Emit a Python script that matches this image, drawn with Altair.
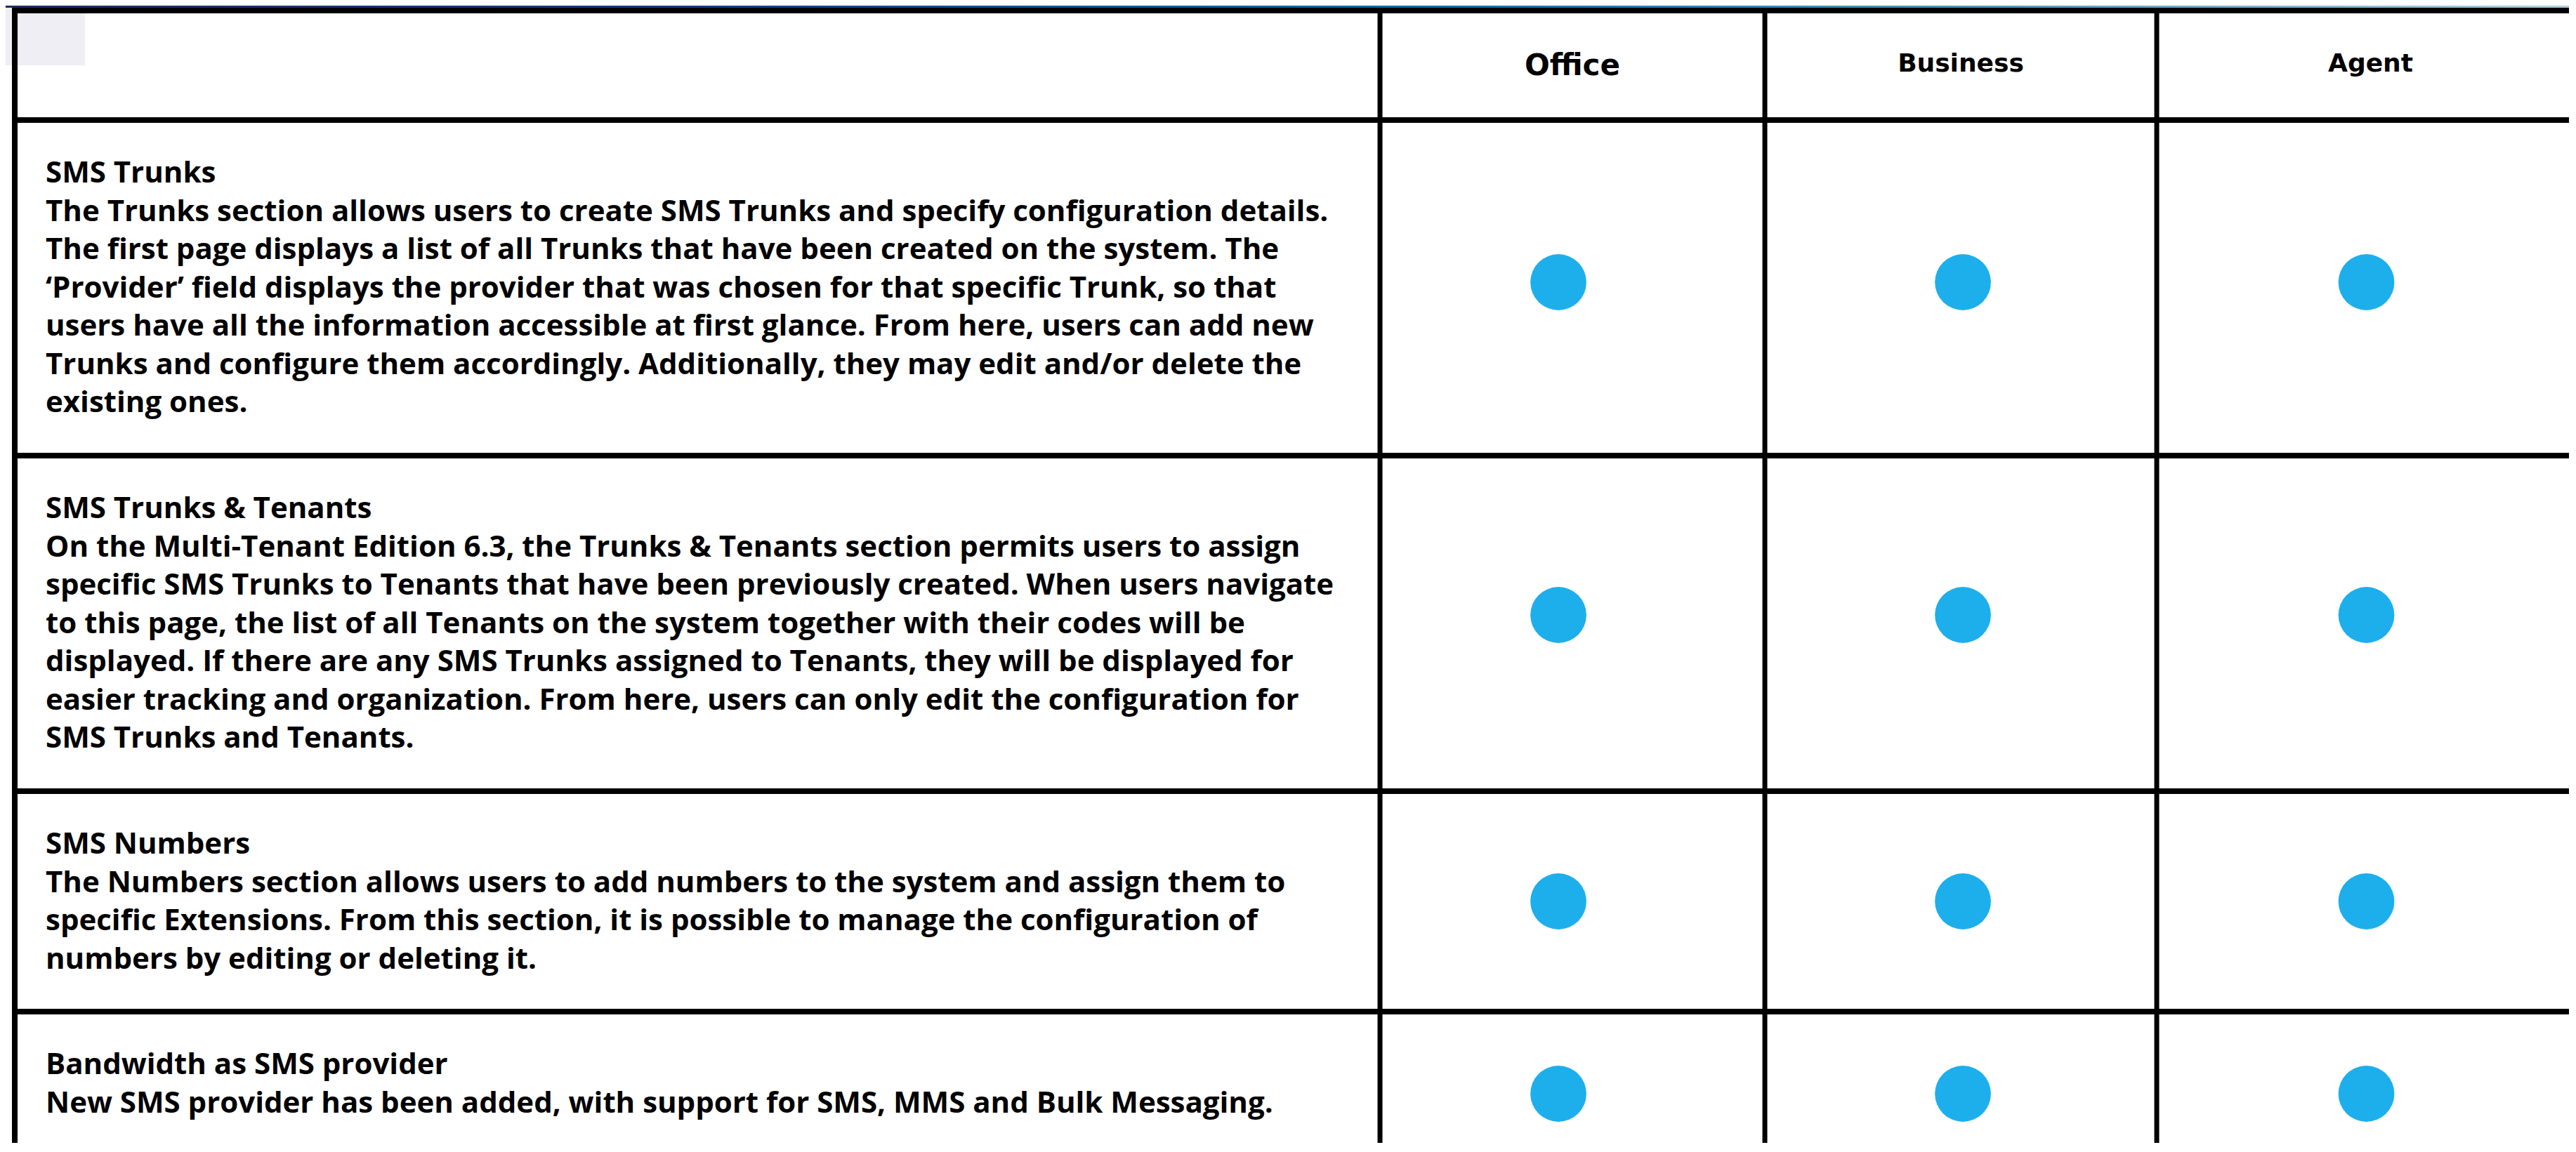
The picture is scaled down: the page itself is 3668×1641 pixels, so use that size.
import altair as alt
import pandas as pd

# ---------------- content ----------------
editions = ["Office", "Business", "Agent"]
features = [
    "SMS Trunks",
    "SMS Trunks & Tenants",
    "SMS Numbers",
    "Bandwidth as SMS provider",
]
descriptions = [
    [
        "The Trunks section allows users to create SMS Trunks and specify configuration details.",
        "The first page displays a list of all Trunks that have been created on the system. The",
        "\u2018Provider\u2019 field displays the provider that was chosen for that specific Trunk, so that",
        "users have all the information accessible at first glance. From here, users can add new",
        "Trunks and configure them accordingly. Additionally, they may edit and/or delete the",
        "existing ones.",
    ],
    [
        "On the Multi-Tenant Edition 6.3, the Trunks & Tenants section permits users to assign",
        "specific SMS Trunks to Tenants that have been previously created. When users navigate",
        "to this page, the list of all Tenants on the system together with their codes will be",
        "displayed. If there are any SMS Trunks assigned to Tenants, they will be displayed for",
        "easier tracking and organization. From here, users can only edit the configuration for",
        "SMS Trunks and Tenants.",
    ],
    [
        "The Numbers section allows users to add numbers to the system and assign them to",
        "specific Extensions. From this section, it is possible to manage the configuration of",
        "numbers by editing or deleting it.",
    ],
    [
        "New SMS provider has been added, with support for SMS, MMS and Bulk Messaging.",
    ],
]
# availability of each feature per edition (1 = included)
availability = [
    [1, 1, 1],
    [1, 1, 1],
    [1, 1, 1],
    [1, 1, 1],
]

# ---------------- layout (page pixels) ----------------
W, H = 3650, 1620
M = 8
col_edges = [21, 1965, 2513, 3071, 3680]
row_edges = [15, 171, 649, 1127, 1441, 1675]
header_sizes = [42, 36, 36]
header_dy = [2, -1, -1]
dot_dx = [-20, 3, -6]          # small per-column nudges of the dots
dot_dy = [-8, -12, 0, 0]       # small per-row nudges of the dots
text_x = 65
title_offset = 76
line_gap = 54.5

xs = alt.Scale(domain=[M, M + W], nice=False, zero=False)
ys = alt.Scale(domain=[M, M + H], nice=False, zero=False, reverse=True)


def X(f):
    return alt.X(f"{f}:Q", scale=xs, axis=None)


def Y(f):
    return alt.Y(f"{f}:Q", scale=ys, axis=None)


# decorative top band and corner tab
band = pd.DataFrame({"x0": [M], "x1": [M + W], "y0": [M], "y1": [11]})
band_layer = alt.Chart(band).mark_rect(
    color={
        "gradient": "linear",
        "x1": 0, "x2": 1, "y1": 0, "y2": 0,
        "stops": [
            {"offset": 0.0, "color": "#1b2a66"},
            {"offset": 0.25, "color": "#173b77"},
            {"offset": 0.55, "color": "#0f6a9f"},
            {"offset": 0.78, "color": "#5796bd"},
            {"offset": 1.0, "color": "#abcfe2"},
        ],
    }
).encode(x=X("x0"), x2="x1", y=Y("y0"), y2="y1")

tab = pd.DataFrame({"x0": [M], "x1": [121], "y0": [M], "y1": [93]})
tab_layer = alt.Chart(tab).mark_rect(color="rgb(198,198,218)", opacity=0.3).encode(
    x=X("x0"), x2="x1", y=Y("y0"), y2="y1"
)

# grid lines
hlines = pd.DataFrame({"y": row_edges[:-1], "x0": [17] * 5, "x1": [3700] * 5})
h_layer = alt.Chart(hlines).mark_rule(color="black", strokeWidth=8, clip=True).encode(
    x=X("x0"), x2="x1", y=Y("y")
)
vlines = pd.DataFrame(
    {"x": col_edges[:-1], "y0": [11] * 4, "y1": [1700] * 4, "w": [8, 7, 7, 7]}
)
v_layer = alt.Chart(vlines).mark_rule(color="black", clip=True).encode(
    x=X("x"), y=Y("y0"), y2="y1",
    strokeWidth=alt.StrokeWidth("w:Q", scale=None, legend=None),
)

# header labels
hdr = pd.DataFrame(
    {
        "label": editions,
        "x": [(col_edges[i + 1] + col_edges[i + 2]) / 2 for i in range(3)],
        "y": [(row_edges[0] + row_edges[1]) / 2 - 1 + header_dy[i] for i in range(3)],
        "fs": header_sizes,
    }
)
hdr_layer = alt.Chart(hdr).mark_text(
    align="center", baseline="middle", font="DejaVu Sans", fontWeight="bold", color="black"
).encode(
    x=X("x"), y=Y("y"), text="label:N",
    size=alt.Size("fs:Q", scale=None, legend=None),
)

# feature texts
rows = []
for i, (title, desc) in enumerate(zip(features, descriptions)):
    for j, line in enumerate([title] + desc):
        rows.append(
            {"line": line, "x": text_x,
             "y": row_edges[i + 1] + title_offset + j * line_gap}
        )
txt = pd.DataFrame(rows)
txt_layer = alt.Chart(txt).mark_text(
    align="left", baseline="middle", font="Open Sans", fontWeight="bold",
    fontSize=42, color="black",
).encode(x=X("x"), y=Y("y"), text="line:N")

# availability dots
dots = []
for i, f in enumerate(features):
    for k, e in enumerate(editions):
        if availability[i][k]:
            dots.append(
                {"feature": f, "edition": e,
                 "x": (col_edges[k + 1] + col_edges[k + 2]) / 2 + dot_dx[k],
                 "y": (row_edges[i + 1] + row_edges[i + 2]) / 2 + dot_dy[i]}
            )
dot_df = pd.DataFrame(dots)
dot_layer = alt.Chart(dot_df).mark_circle(
    size=6362, color="#1dafec", opacity=1, clip=True
).encode(x=X("x"), y=Y("y"))

chart = (
    alt.layer(tab_layer, band_layer, h_layer, v_layer, hdr_layer, txt_layer, dot_layer)
    .properties(
        width=W, height=H, padding=0, background="white",
        autosize=alt.AutoSizeParams(type="none"),
    )
    .configure_view(strokeWidth=0)
)

chart.save("out.html", embed_options={"renderer": "svg", "actions": False})
